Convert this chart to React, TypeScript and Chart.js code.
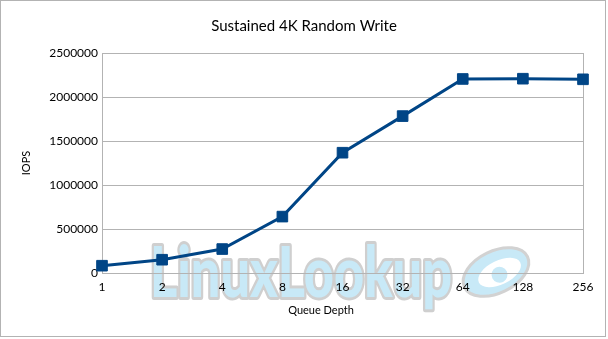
import React, { useEffect, useRef } from "react";
import { Chart, registerables } from "chart.js";

Chart.register(...registerables);

const categories = ["1", "2", "4", "8", "16", "32", "64", "128", "256"];
const iopsValues = [83000, 151000, 272000, 641000, 1367000, 1783000, 2205000, 2208000, 2201000];
const yTicks = [0, 500000, 1000000, 1500000, 2000000, 2500000];

const chartTitle = "Sustained 4K Random Write";
const xTitle = "Queue Depth";
const yTitle = "IOPS";
const watermarkText = "LinuxLookup";

const GRID = "#b3b3b3";
const BLUE = "#004586";

const decorPlugin = {
  id: "decor",
  beforeDraw(chart: any) {
    const ctx = chart.ctx as CanvasRenderingContext2D;
    ctx.save();
    ctx.fillStyle = "#ffffff";
    ctx.fillRect(0, 0, chart.width, chart.height);
    // watermark text
    ctx.font = '900 70px "Lato"';
    const w = ctx.measureText(watermarkText).width;
    ctx.save();
    ctx.translate(150, 297);
    ctx.scale(302 / w, 1);
    ctx.lineJoin = "round";
    ctx.lineWidth = 6;
    ctx.strokeStyle = "#cfcfcf";
    ctx.strokeText(watermarkText, 0, 0);
    ctx.fillStyle = "#c8e9f7";
    ctx.fillText(watermarkText, 0, 0);
    ctx.restore();
    // logo
    ctx.save();
    ctx.translate(496, 272);
    ctx.rotate(-0.45);
    ctx.beginPath();
    ctx.ellipse(0, 0, 35, 21, 0, 0, Math.PI * 2);
    ctx.fillStyle = "#c8e9f7";
    ctx.fill();
    ctx.lineWidth = 3;
    ctx.strokeStyle = "#d2d2d2";
    ctx.stroke();
    ctx.beginPath();
    ctx.ellipse(3, 2, 23, 12, 0, 0, Math.PI * 2);
    ctx.fillStyle = "#ffffff";
    ctx.fill();
    ctx.beginPath();
    ctx.arc(2, 4, 8, 0, Math.PI * 2);
    ctx.fillStyle = "#c8e9f7";
    ctx.fill();
    ctx.restore();
    ctx.restore();
  },
  afterDraw(chart: any) {
    const ctx = chart.ctx as CanvasRenderingContext2D;
    ctx.save();
    ctx.fillStyle = "#000000";
    ctx.textAlign = "center";
    ctx.textBaseline = "middle";
    ctx.font = '15px "Lato"';
    ctx.fillText(chartTitle, 304, 26);
    ctx.font = '11px "Lato"';
    ctx.fillText(xTitle, 321, 310);
    ctx.strokeStyle = GRID;
    ctx.lineWidth = 1;
    ctx.strokeRect(0.5, 0.5, 605, 336);
    ctx.restore();
  },
};

export default function App() {
  const ref = useRef<HTMLCanvasElement>(null);
  useEffect(() => {
    if (!ref.current) return;
    const chart = new Chart(ref.current, {
      type: "line",
      data: {
        labels: categories,
        datasets: [
          {
            label: yTitle,
            data: iopsValues,
            borderColor: BLUE,
            backgroundColor: BLUE,
            borderWidth: 3,
            tension: 0,
            pointStyle: "rect",
            pointRadius: 7.5,
            pointBorderWidth: 1,
            pointBackgroundColor: BLUE,
            pointBorderColor: BLUE,
          },
        ],
      },
      plugins: [decorPlugin],
      options: {
        animation: false,
        responsive: false,
        layout: { padding: { left: 0, right: 25, top: 53, bottom: 0 } },
        plugins: {
          legend: { display: false },
          title: { display: false },
          tooltip: { enabled: false },
        },
        scales: {
          x: {
            offset: false,
            grid: {
              drawTicks: false,
              color: (c: any) => (c.index === categories.length - 1 ? GRID : "rgba(0,0,0,0)"),
            },
            border: { display: true, color: GRID },
            ticks: {
              padding: 7,
              color: "#000000",
              font: { family: "Lato", size: 12 },
              maxRotation: 0,
              autoSkip: false,
            },
            afterFit: (s: any) => {
              s.height = 66;
            },
          },
          y: {
            min: 0,
            max: 2500000,
            afterBuildTicks: (s: any) => {
              s.ticks = yTicks.map((v) => ({ value: v }));
            },
            grid: { drawTicks: false, color: GRID },
            border: { display: true, color: GRID },
            ticks: {
              padding: 4,
              color: "#000000",
              font: { family: "Lato", size: 12 },
              callback: (v: any) => String(v),
            },
            title: {
              display: true,
              text: yTitle,
              color: "#000000",
              font: { family: "Lato", size: 11 },
              padding: { top: 20, bottom: 0 },
            },
            afterFit: (s: any) => {
              s.width = 102;
            },
          },
        },
      },
    });
    return () => chart.destroy();
  }, []);
  return (
    <div style={{ position: "fixed", left: 0, top: 0, width: 608, height: 339 }}>
      <canvas ref={ref} width={608} height={339} />
    </div>
  );
}
